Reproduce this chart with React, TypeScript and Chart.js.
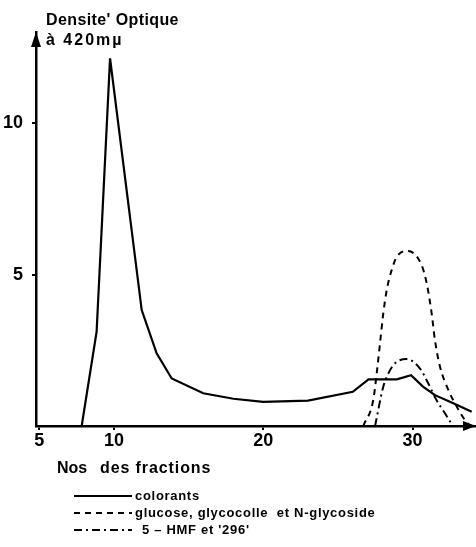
import { useEffect, useRef } from "react";
import { Chart, registerables } from "chart.js";

Chart.register(...registerables);

const colorantsX = [7.84, 8.84, 9.74, 11.86, 12.86, 13.87, 15.98, 18, 20, 23, 26, 27.05, 28.95, 29.9, 30.7, 31.5, 32.73, 33.96];
const colorantsY = [0, 3.12, 12.15, 3.83, 2.4, 1.57, 1.08, 0.9, 0.8, 0.84, 1.13, 1.54, 1.54, 1.68, 1.3, 1.02, 0.75, 0.47];

const glucoseX = [26.7, 27.37, 27.6, 27.82, 28.04, 28.27, 28.6, 28.94, 29.7, 30.6, 30.95, 31.28, 31.5, 31.84, 32.4, 32.96, 33.5, 33.85];
const glucoseY = [0, 0.86, 1.74, 2.73, 3.72, 4.49, 5.15, 5.59, 5.78, 5.32, 4.71, 3.72, 2.84, 1.96, 1.19, 0.64, 0.2, 0];

const hmfX = [27.49, 28.04, 28.38, 28.82, 29.6, 30.5, 31.05, 31.6, 32.17, 32.7];
const hmfY = [0, 1.3, 1.74, 2.07, 2.21, 1.9, 1.41, 0.86, 0.42, 0];

const seriesLabels = ["colorants", "glucose, glycocolle  et N-glycoside", "5 \u2013 HMF et '296'"];
const xTickValues = [5, 10, 20, 30];
const yTickValues = [5, 10];
const yTitleLines = ["Densite' Optique", "\u00e0 420m\u00b5"];
const xTitleParts = ["Nos", "des fractions"];

const toPoints = (xs: number[], ys: number[]) => xs.map((x, i) => ({ x, y: ys[i] }));

const decorPlugin = {
  id: "decor",
  afterDraw(chart: any) {
    const { ctx, chartArea } = chart;
    const { left, top, right, bottom } = chartArea;
    ctx.save();
    ctx.fillStyle = "#000";
    ctx.strokeStyle = "#000";
    // arrows
    ctx.beginPath();
    ctx.moveTo(left, top);
    ctx.lineTo(left - 5, top + 15);
    ctx.lineTo(left + 5, top + 15);
    ctx.closePath();
    ctx.fill();
    ctx.beginPath();
    ctx.moveTo(right, bottom);
    ctx.lineTo(right - 13, bottom - 5);
    ctx.lineTo(right - 13, bottom + 5);
    ctx.closePath();
    ctx.fill();

    // y title
    ctx.textAlign = "left";
    ctx.textBaseline = "alphabetic";
    ctx.font = "bold 16px 'Liberation Sans'";
    (ctx as any).letterSpacing = "0.4px";
    ctx.fillText(yTitleLines[0], 46, 25);
    (ctx as any).letterSpacing = "2px";
    ctx.fillText(yTitleLines[1], 46, 45);

    // x title
    ctx.font = "bold 16px 'Liberation Sans'";
    (ctx as any).letterSpacing = "0px";
    ctx.fillText(xTitleParts[0], 57, 473);
    (ctx as any).letterSpacing = "0.9px";
    ctx.fillText(xTitleParts[1], 100, 473);

    // legend
    const rows = [496, 513, 530];
    const textX = [135, 135, 142];
    chart.data.datasets.forEach((ds: any, i: number) => {
      const y = rows[i];
      ctx.beginPath();
      ctx.lineWidth = ds.borderWidth;
      ctx.setLineDash(ds.borderDash || []);
      ctx.moveTo(74, y);
      ctx.lineTo(132, y);
      ctx.stroke();
      ctx.setLineDash([]);
      ctx.font = "bold 13px 'Liberation Sans'";
      (ctx as any).letterSpacing = "0.7px";
      ctx.textBaseline = "middle";
      ctx.fillText(ds.label, textX[i], y);
    });
    ctx.restore();
  },
};

export default function App() {
  const ref = useRef<HTMLCanvasElement>(null);
  useEffect(() => {
    if (!ref.current) return;
    const tickFont = { family: "'Liberation Sans'", size: 18, weight: "bold" as const };
    const chart = new Chart(ref.current, {
      type: "line",
      data: {
        datasets: [
          {
            label: seriesLabels[0],
            data: toPoints(colorantsX, colorantsY),
            borderColor: "#000",
            borderWidth: 2.2,
            pointRadius: 0,
            tension: 0,
            fill: false,
          },
          {
            label: seriesLabels[1],
            data: toPoints(glucoseX, glucoseY),
            borderColor: "#000",
            borderWidth: 2,
            borderDash: [6, 5],
            pointRadius: 0,
            cubicInterpolationMode: "monotone",
            fill: false,
          },
          {
            label: seriesLabels[2],
            data: toPoints(hmfX, hmfY),
            borderColor: "#000",
            borderWidth: 2,
            borderDash: [8, 4, 2, 4],
            pointRadius: 0,
            cubicInterpolationMode: "monotone",
            fill: false,
          },
        ],
      },
      options: {
        animation: false,
        responsive: false,
        layout: { padding: { top: 32, left: 0, right: 0, bottom: 0 } },
        plugins: { legend: { display: false }, tooltip: { enabled: false } },
        scales: {
          x: {
            type: "linear",
            min: 4.78,
            max: 34.25,
            afterFit: (s: any) => {
              s.height = 121;
            },
            afterBuildTicks: (s: any) => {
              s.ticks = xTickValues.map((v) => ({ value: v }));
            },
            grid: { drawOnChartArea: false, drawTicks: true, tickLength: 4, color: "#000", lineWidth: 2 },
            border: { display: true, color: "#000", width: 2.5 },
            ticks: { color: "#000", font: tickFont, padding: 0, maxRotation: 0, autoSkip: false },
          },
          y: {
            type: "linear",
            min: 0,
            max: 13.02,
            afterFit: (s: any) => {
              s.width = 36;
            },
            afterBuildTicks: (s: any) => {
              s.ticks = yTickValues.map((v) => ({ value: v }));
            },
            grid: { drawOnChartArea: false, drawTicks: true, tickLength: 4, color: "#000", lineWidth: 2 },
            border: { display: true, color: "#000", width: 2.5 },
            ticks: { color: "#000", font: tickFont, padding: 9, autoSkip: false },
          },
        },
      },
      plugins: [decorPlugin],
    });
    return () => chart.destroy();
  }, []);
  return (
    <div style={{ position: "fixed", left: 0, top: 0, width: 476, height: 547, background: "#fff" }}>
      <canvas ref={ref} width={476} height={547} style={{ display: "block" }} />
    </div>
  );
}
